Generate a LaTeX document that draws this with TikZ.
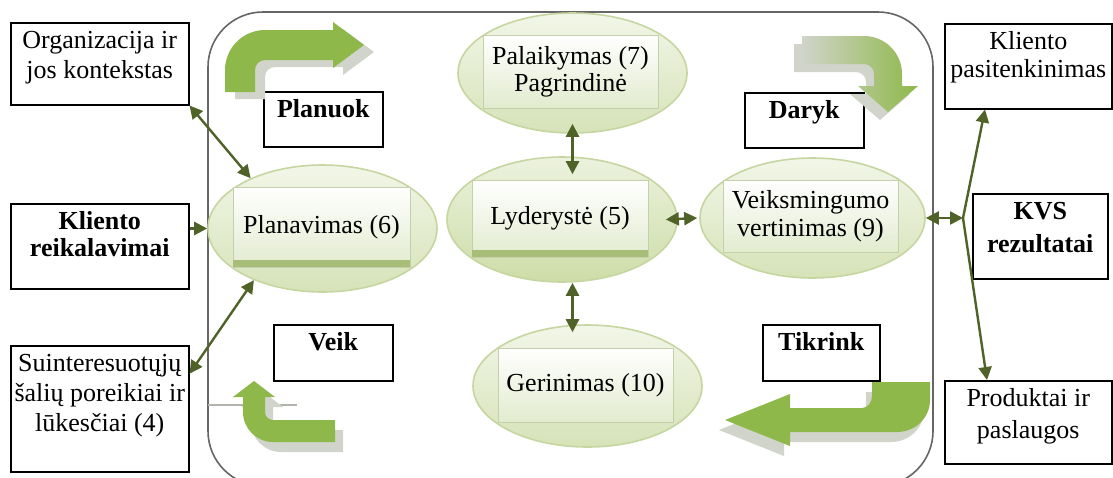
\documentclass[tikz,border=0pt]{standalone}
\usepackage{fontspec}
\setmainfont{Liberation Serif}
\usetikzlibrary{shapes.geometric,arrows.meta}

\definecolor{arrgreen}{RGB}{143,184,74}
\definecolor{arrshadow}{RGB}{208,212,202}
\definecolor{linkgreen}{RGB}{79,98,40}
\definecolor{ellTop}{RGB}{242,246,232}
\definecolor{ellBot}{RGB}{214,227,184}
\definecolor{ellLine}{RGB}{198,214,160}
\definecolor{lydTop}{RGB}{236,242,222}
\definecolor{lydBot}{RGB}{205,221,168}
\definecolor{panelLine}{RGB}{196,208,170}
\definecolor{panelBot}{RGB}{226,235,206}
\definecolor{bandgreen}{RGB}{168,190,120}

% text set at the top of a framed box: width, height, lines
\newcommand{\boxtxt}[3]{\parbox[c][#2][t]{#1}{\centering\rule{0pt}{26pt}#3}}

\begin{document}
\begin{tikzpicture}[x=1pt,y=-1pt,
  every node/.style={font=\fontsize{26}{30}\selectfont},
  frame/.style={draw=black, line width=1.5pt, fill=white, inner sep=0pt, anchor=north west},
  oval/.style={ellipse, draw=ellLine, line width=1.6pt, top color=ellTop, bottom color=ellBot, inner sep=0pt},
  lydoval/.style={oval, top color=lydTop, bottom color=lydBot},
  panel/.style={rectangle, draw=panelLine, line width=0.8pt, top color=white, bottom color=panelBot, inner sep=0pt, align=center},
  link/.style={draw=linkgreen, line width=2.4pt, arrows={Triangle[length=13pt,width=13pt]-Triangle[length=13pt,width=13pt]}},
  linkto/.style={draw=linkgreen, line width=2.4pt, arrows={-Triangle[length=13pt,width=13pt]}},
  bigframe/.style={draw=black!60, line width=1.6pt, rounded corners=55pt},
  bent/.style={fill=arrgreen},
  bentshadow/.style={fill=arrshadow}
]
\useasboundingbox (0,0) rectangle (1113,477);
\fill[white] (0,0) rectangle (1113,477);
\clip (0,0) rectangle (1113,477);

% outer cycle frame
\draw[bigframe] (208,12) rectangle (933,486);

% ellipses with their inner panels
\node[oval, minimum width=229pt, minimum height=120pt] (pal) at (572.5,73) {};
\node[panel, minimum width=175pt, minimum height=73pt] (palr) at (570.5,71.5) {Palaikymas (7)\\[-3pt]Pagrindinė};

\node[oval, minimum width=229pt, minimum height=127pt] (plan) at (322.5,228.5) {};
\node[panel, minimum width=177pt, minimum height=80pt] (planr) at (321.5,227) {Planavimas (6)};
\fill[bandgreen] ([yshift=7pt]planr.south west) rectangle (planr.south east);

\node[lydoval, minimum width=230pt, minimum height=125pt] (lyd) at (562,219.5) {};
\node[panel, minimum width=176pt, minimum height=77pt] (lydr) at (560,218.5) {Lyderystė (5)};
\fill[bandgreen] ([yshift=7pt]lydr.south west) rectangle (lydr.south east);

\node[oval, minimum width=225pt, minimum height=120pt] (vert) at (812.5,218) {};
\node[panel, minimum width=175pt, minimum height=72pt] (vertr) at (810.5,216) {Veiksmingumo\\[-2pt]vertinimas (9)};

\node[oval, minimum width=229pt, minimum height=122pt] (ger) at (587.5,386) {};
\node[panel, minimum width=175pt, minimum height=74pt] (gerr) at (585.5,385) {Gerinimas (10)};

% framed text boxes
\node[frame] (org) at (10,22) {\boxtxt{178pt}{82pt}{Organizacija ir\\jos kontekstas}};
\node[frame] (planuok) at (263,91) {\boxtxt{119pt}{55pt}{\bfseries Planuok}};
\node[frame] (daryk) at (744,92) {\boxtxt{119pt}{55pt}{\bfseries Daryk}};
\node[frame] (kpas) at (944,23) {\boxtxt{167pt}{85pt}{Kliento\\[-2pt]pasitenkinimas}};
\node[frame] (krei) at (10,203) {\boxtxt{178pt}{85pt}{\bfseries Kliento\\[-3pt]reikalavimai}};
\node[frame] (kvs) at (972,193) {\boxtxt{135pt}{85pt}{\bfseries KVS\\[3pt]rezultatai}};
\node[frame] (suin) at (10,345) {\boxtxt{178pt}{126pt}{Suinteresuotųjų\\šalių poreikiai ir\\lūkesčiai (4)}};
\node[frame] (veikbox) at (273,324) {\boxtxt{119pt}{56pt}{\bfseries Veik}};
\node[frame] (tikr) at (762,324) {\boxtxt{117pt}{56pt}{\bfseries Tikrink}};
\node[frame] (prod) at (944,380) {\boxtxt{167pt}{83pt}{Produktai ir\\[2pt]paslaugos}};

% bent cycle arrows: top left (right), top right (down), bottom right (left), bottom left (up)
\begin{scope}[shift={(10,7)}]
\fill[bentshadow] (225,92) -- (225,70) .. controls (225,48) and (243,30) .. (265,30) -- (333,30) -- (333,22) -- (364,45) -- (333,68) -- (333,60) -- (265,60) .. controls (259.5,60) and (255,64.5) .. (255,70) -- (255,92) -- cycle;
\end{scope}
\fill[bent] (225,92) -- (225,70) .. controls (225,48) and (243,30) .. (265,30) -- (333,30) -- (333,22) -- (364,45) -- (333,68) -- (333,60) -- (265,60) .. controls (259.5,60) and (255,64.5) .. (255,70) -- (255,92) -- cycle;

\begin{scope}[shift={(-8,8)}]
\fill[bentshadow] (802,36) -- (864,36) .. controls (885,36) and (902,53) .. (902,74) -- (902,86) -- (918,86) -- (888,112) -- (858,86) -- (874,86) -- (874,74) .. controls (874,68.5) and (869.5,64) .. (864,64) -- (802,64) -- cycle;
\end{scope}
\shade[left color=arrshadow, middle color=arrgreen, right color=arrgreen] (802,36) -- (864,36) .. controls (885,36) and (902,53) .. (902,74) -- (902,86) -- (918,86) -- (888,112) -- (858,86) -- (874,86) -- (874,74) .. controls (874,68.5) and (869.5,64) .. (864,64) -- (802,64) -- cycle;

\begin{scope}[shift={(-6,10)}]
\fill[bentshadow] (872,382) -- (930,382) -- (930,400) .. controls (930,418) and (915,432) .. (897,432) -- (790,432) -- (790,446) -- (725,420) -- (790,394) -- (790,408) -- (862,408) .. controls (868,408) and (872,402) .. (872,396) -- cycle;
\end{scope}
\fill[bent] (872,382) -- (930,382) -- (930,400) .. controls (930,418) and (915,432) .. (897,432) -- (790,432) -- (790,446) -- (725,420) -- (790,394) -- (790,408) -- (862,408) .. controls (868,408) and (872,402) .. (872,396) -- cycle;

\draw[arrshadow!85!black, line width=2pt] (208,405) -- (297,405);
\begin{scope}[shift={(8,10)}]
\fill[bentshadow] (335,442) -- (273,442) .. controls (256.4,442) and (243,428.6) .. (243,412) -- (243,397) -- (233,397) -- (254,381) -- (275,397) -- (265,397) -- (265,412) .. controls (265,416.4) and (268.6,420) .. (273,420) -- (335,420) -- cycle;
\end{scope}
\fill[bent] (335,442) -- (273,442) .. controls (256.4,442) and (243,428.6) .. (243,412) -- (243,397) -- (233,397) -- (254,381) -- (275,397) -- (265,397) -- (265,412) .. controls (265,416.4) and (268.6,420) .. (273,420) -- (335,420) -- cycle;

% connectors
\draw[link] (org.south east) -- (plan.145);
\draw[linkto] (krei.east |- plan.west) -- (plan.west);
\draw[link] ([yshift=35pt]suin.east) -- (plan.217);
\draw[link] ([yshift=10pt]pal.south) -- ([yshift=-18pt]pal.south |- lyd.north);
\draw[link] (pal.south |- lyd.south) -- ([yshift=-8pt]pal.south |- ger.north);
\draw[link] ([xshift=-12pt]lyd.east) -- ([xshift=-2pt]vert.west);
\coordinate (J0) at (vert.east -| kvs.west);
\coordinate (J) at ([xshift=-9pt]J0);
\draw[link] (vert.east) -- (J);
\draw[linkto] (J) -- ([xshift=41pt]kpas.south west);
\draw[linkto] (J) -- ([xshift=43pt]prod.north west);
\end{tikzpicture}
\end{document}
